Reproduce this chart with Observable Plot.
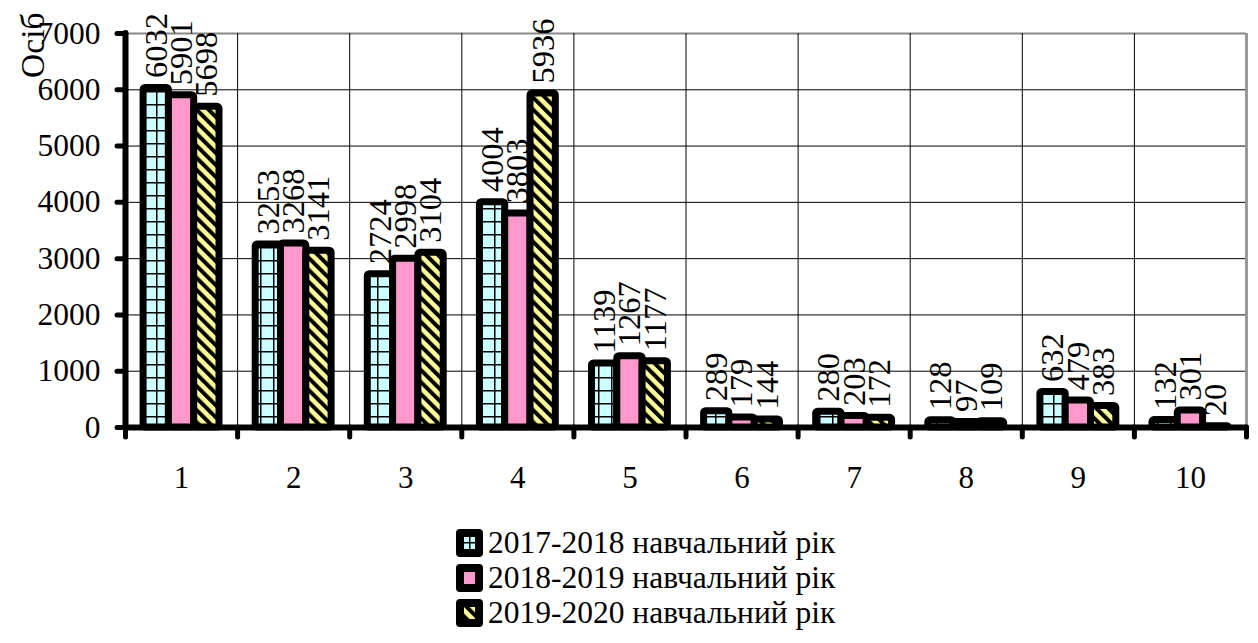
<!DOCTYPE html>
<html><head><meta charset="utf-8">
<script src="https://cdn.jsdelivr.net/npm/d3@7"></script>
<script src="https://cdn.jsdelivr.net/npm/@observablehq/plot@0.6"></script>
<style>
body{margin:0;background:#fff;font-family:"Liberation Serif","Times New Roman",serif;}
#chart{position:relative;width:1258px;height:643px;overflow:hidden;}
#legend{position:absolute;left:456px;top:525px;}
.row{display:flex;align-items:center;height:35px;font-size:31.5px;line-height:35px;color:#000;white-space:nowrap;}
.sw{width:27px;height:28px;margin-right:5px;display:block;}
</style></head><body><div id="chart"></div>
<script>
const categories = [1, 2, 3, 4, 5, 6, 7, 8, 9, 10];
const seriesNames = ["2017-2018 навчальний рік", "2018-2019 навчальний рік", "2019-2020 навчальний рік"];
const values2017 = [6032, 3253, 2724, 4004, 1139, 289, 280, 128, 632, 132];
const values2018 = [5901, 3268, 2998, 3803, 1267, 179, 203, 97, 479, 301];
const values2019 = [5698, 3141, 3104, 5936, 1177, 144, 172, 109, 383, 20];
const yTicks = [0, 1000, 2000, 3000, 4000, 5000, 6000, 7000];
const yLabel = "Осіб";

const seriesValues = [values2017, values2018, values2019];
const W = 0.2257;                 // bar width in category units
const offsets = [-W, 0, W];
const rows = categories.flatMap((c, i) => seriesValues.map((vals, s) => ({cat: c, s, value: vals[i]})));
const bounds = [0, ...categories].map(c => c + 0.5);
const font = "'Liberation Serif', 'Times New Roman', serif";

const marks = [
  Plot.ruleY(yTicks.filter(t => t > 0 && t < 7000), {stroke: "#000", strokeWidth: 1}),
  Plot.ruleY([7000], {stroke: "#888", strokeWidth: 2}),
  Plot.ruleX(bounds.slice(1, -1), {y1: 0, y2: 7000, stroke: "#000", strokeWidth: 1}),
  Plot.ruleX([bounds[bounds.length - 1]], {y1: 0, y2: 7000, stroke: "#999", strokeWidth: 3}),
  ...seriesValues.map((vals, s) => Plot.rectY(rows.filter(d => d.s === s), {
    x1: d => d.cat + offsets[d.s] - W / 2,
    x2: d => d.cat + offsets[d.s] + W / 2,
    y1: 0, y2: "value",
    fill: `url(#pat${s})`, stroke: "#000", strokeWidth: 7, strokeLinejoin: "round", rx: 2
  })),
  Plot.text(rows, {
    x: d => d.cat + offsets[d.s], y: "value", text: d => String(d.value),
    rotate: -90, textAnchor: "start", dy: -10, fontSize: 32.5, fontFamily: font, fill: "#000"
  }),
  Plot.ruleY([0], {stroke: "#000", strokeWidth: 6, strokeLinecap: "round"}),
  Plot.axisX({ticks: bounds, tickSize: 10, tickFormat: () => "", strokeWidth: 5, strokeLinecap: "round", stroke: "#000"}),
  Plot.axisX({ticks: categories, tickSize: 0, tickPadding: 38, tickFormat: d => String(d), fontSize: 31, fontFamily: font, fill: "#000"}),
  Plot.ruleX([bounds[0]], {y1: 0, y2: 7000, stroke: "#000", strokeWidth: 6, strokeLinecap: "round"}),
  Plot.axisY({ticks: yTicks, tickSize: 8, tickPadding: 17, tickFormat: d => String(d), strokeWidth: 5, strokeLinecap: "round", fontSize: 31.5, fontFamily: font, fill: "#000", stroke: "#000", label: null}),
  Plot.text([yLabel], {frameAnchor: "top-left", rotate: -90, textAnchor: "end", dx: -105, dy: -21, fontSize: 33.5, fontFamily: font, fill: "#000"})
];

const svg = Plot.plot({
  width: 1258, height: 500,
  marginLeft: 125, marginRight: 12, marginTop: 33, marginBottom: 73,
  x: {domain: [0.5, 10.5], axis: null},
  y: {domain: [0, 7000], axis: null},
  style: {fontFamily: font, fontSize: "31px", color: "#000", background: "#fff", overflow: "visible"},
  marks
});

const defs = d3.select(svg).insert("defs", ":first-child");
const p0 = defs.append("pattern").attr("id", "pat0").attr("patternUnits", "userSpaceOnUse").attr("width", 13).attr("height", 13);
p0.append("rect").attr("width", 13).attr("height", 13).attr("fill", "#ccffff");
p0.append("path").attr("d", "M0,0.75H13M0.75,0V13").attr("stroke", "#000").attr("stroke-width", 1.5);
const p1 = defs.append("pattern").attr("id", "pat1").attr("patternUnits", "userSpaceOnUse").attr("width", 10).attr("height", 10);
p1.append("rect").attr("width", 10).attr("height", 10).attr("fill", "#ff99cc");
const p2 = defs.append("pattern").attr("id", "pat2").attr("patternUnits", "userSpaceOnUse").attr("width", 8.5).attr("height", 8.5).attr("patternTransform", "rotate(-45)");
p2.append("rect").attr("width", 8.5).attr("height", 8.5).attr("fill", "#ffff99");
p2.append("rect").attr("width", 4).attr("height", 8.5).attr("fill", "#000");

const chart = document.getElementById("chart");
chart.appendChild(svg);

const legend = document.createElement("div");
legend.id = "legend";
seriesNames.forEach((name, s) => {
  const row = document.createElement("div");
  row.className = "row";
  row.innerHTML = `<svg class="sw" width="27" height="28"><rect x="0" y="0" width="27" height="28" rx="4" fill="#000"/><rect x="8" y="8" width="11" height="12" fill="url(#pat${s})"/></svg><span>${name}</span>`;
  legend.appendChild(row);
});
chart.appendChild(legend);
</script></body></html>
